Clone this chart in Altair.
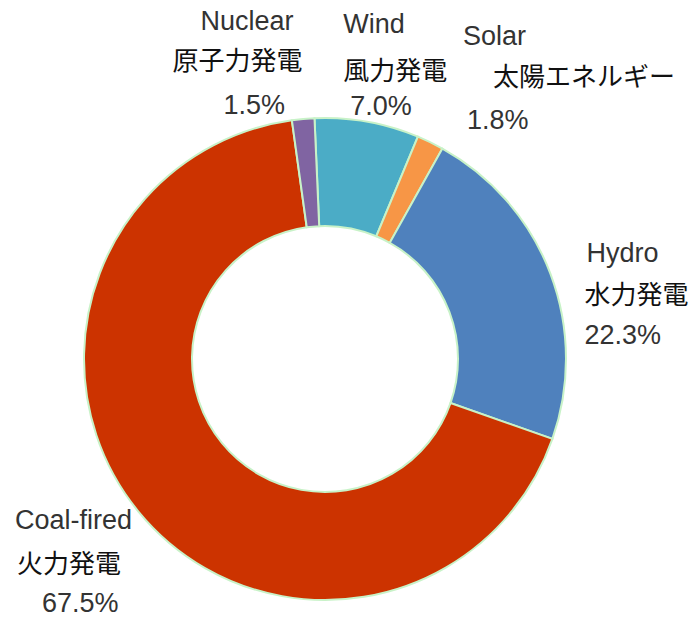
import math
import altair as alt
import pandas as pd

# ---- data ----
names_en = ["Wind", "Solar", "Hydro", "Coal-fired", "Nuclear"]
names_ja = ["風力発電", "太陽エネルギー", "水力発電", "火力発電", "原子力発電"]
shares = [7.0, 1.8, 22.3, 67.5, 1.5]
order_idx = [0, 1, 2, 3, 4]
colors = ["#4bacc6", "#f79646", "#4f81bd", "#cc3300", "#8064a2"]

df = pd.DataFrame({
    "en": names_en,
    "ja": names_ja,
    "share": shares,
    "idx": order_idx,
    "pct": [f"{v:.1f}%" for v in shares],
})

total = sum(shares)
start = math.radians(-2.5)
theta_scale = alt.Scale(domain=[0, total], range=[start, start + 2 * math.pi])

CX, CY = 325, 359
R_OUT, R_IN = 241, 133
R_LAB = 270

base = alt.Chart(df)

arcs = base.mark_arc(
    outerRadius=R_OUT, innerRadius=R_IN, stroke="#c8f2c8", strokeWidth=2
).encode(
    theta=alt.Theta("share:Q", stack=True, scale=theta_scale),
    order=alt.Order("idx:Q"),
    color=alt.Color("en:N", scale=alt.Scale(domain=names_en, range=colors), legend=None),
    x=alt.value(CX),
    y=alt.value(CY),
)

# label line offsets (dx, dy) relative to the polar anchor at each slice's mid-angle
label_style = {
    "Wind":       [(-29, -68), (-29, -21), (-22, 14)],
    "Solar":      [(20, -79), (50, -38), (24, 5)],
    "Hydro":      [(9, -9), (7, 33), (7, 73)],
    "Coal-fired": [(-101, -9), (-99, 35), (-74, 74)],
    "Nuclear":    [(-100, -68), (-128, -28), (-77, 16)],
}
line_fields = ["en", "ja", "pct"]
line_fonts = ["Liberation Sans", "Noto Sans CJK JP", "Liberation Sans"]
line_sizes = [27, 26, 27]
line_colors = ["#333333", "#111111", "#333333"]

layers = [arcs]
for cat, offs in label_style.items():
    for i, (dx, dy) in enumerate(offs):
        t = base.transform_window(
            cum="sum(share)", sort=[alt.SortField("idx")]
        ).transform_calculate(
            mid="datum.cum - datum.share / 2"
        ).transform_filter(
            alt.datum.en == cat
        ).mark_text(
            align="left", baseline="middle", dx=dx, dy=dy,
            font=line_fonts[i], fontSize=line_sizes[i], color=line_colors[i],
        ).encode(
            theta=alt.Theta("mid:Q", stack=None, scale=theta_scale),
            radius=alt.value(R_LAB),
            text=alt.Text(f"{line_fields[i]}:N"),
            x=alt.value(CX),
            y=alt.value(CY),
        )
        layers.append(t)

chart = alt.layer(*layers).properties(
    width=695, height=617, autosize=alt.AutoSizeParams(type="none"), padding=0,
    background="white",
).configure_view(stroke=None)

chart.save("out.html", embed_options={"renderer": "svg", "actions": False})
